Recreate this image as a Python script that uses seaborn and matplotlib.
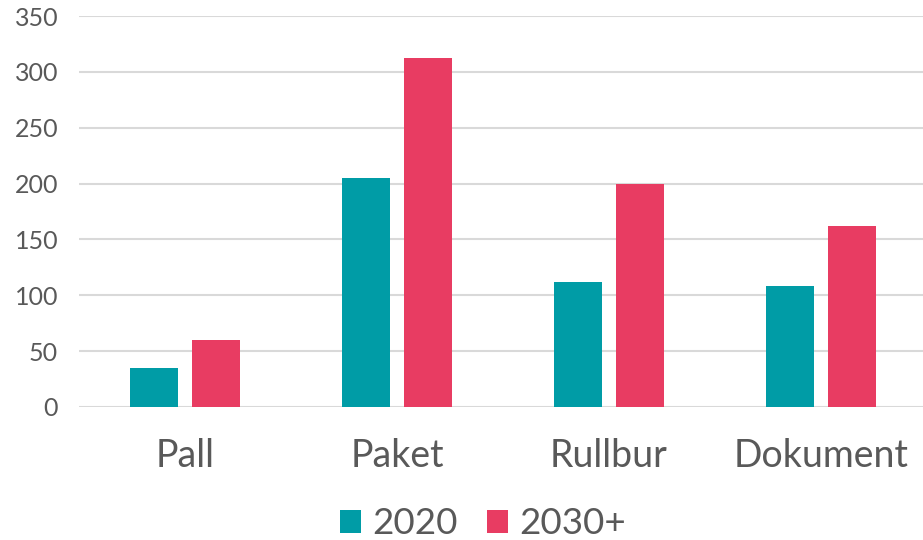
import matplotlib
matplotlib.use("Agg")
import matplotlib.pyplot as plt
import seaborn as sns
import pandas as pd

categories = ["Pall", "Paket", "Rullbur", "Dokument"]
series_names = ["2020", "2030+"]
values_2020 = [35, 205, 112, 108]
values_2030 = [60, 312, 200, 162]
y_ticks = [0, 50, 100, 150, 200, 250, 300, 350]
colors = ["#009CA6", "#E83C62"]

df = pd.DataFrame({
    "Kategori": categories * 2,
    "År": [series_names[0]] * len(categories) + [series_names[1]] * len(categories),
    "Värde": values_2020 + values_2030,
})

sns.set_theme(style="white")
plt.rcParams["font.family"] = ["Lato", "DejaVu Sans"]

fig = plt.figure(figsize=(9.23, 5.40), dpi=100)
ax = fig.add_axes([79 / 923, 1 - 407 / 540, 848 / 923, (407 - 16) / 540])

sns.barplot(data=df, x="Kategori", y="Värde", hue="År", palette=colors,
            width=0.58, gap=0.22, saturation=1, linewidth=0, ax=ax, legend=True)

ax.set_xlim(-0.5, 3.5)
ax.set_ylim(0, 350)
ax.set_yticks(y_ticks)
ax.yaxis.grid(True, color="#D9D9D9", linewidth=1.5)
ax.set_axisbelow(True)
for s in ax.spines.values():
    s.set_visible(False)
ax.set_xlabel("")
ax.set_ylabel("")
ax.tick_params(axis="y", labelsize=18, colors="#595959", length=0, pad=15)
ax.tick_params(axis="x", labelsize=27, colors="#595959", length=0, pad=22)

handles, labels = ax.get_legend_handles_labels()
ax.legend(handles, labels, loc="center", bbox_to_anchor=(483 / 923, 1 - 524 / 540),
          bbox_transform=fig.transFigure, ncol=2, frameon=False, fontsize=26.5,
          handlelength=0.57, handleheight=0.57, handletextpad=0.3, columnspacing=0.8,
          labelcolor="#595959")

fig.savefig("out.png", dpi=100)
